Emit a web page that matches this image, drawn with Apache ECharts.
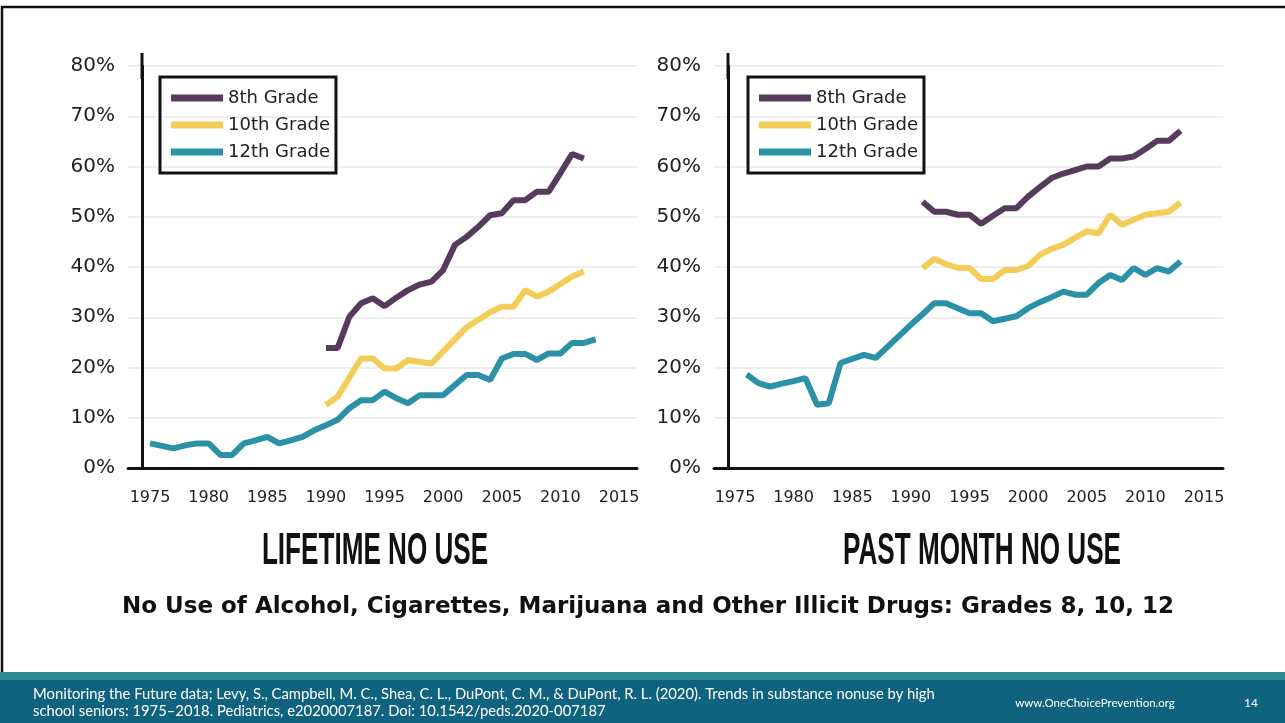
<!DOCTYPE html>
<html>
<head>
<meta charset="utf-8">
<title>No Use of Alcohol, Cigarettes, Marijuana and Other Illicit Drugs</title>
<script src="https://cdn.jsdelivr.net/npm/echarts@6/dist/echarts.min.js"></script>
<style>
  html, body { margin: 0; padding: 0; background: #fff; }
  #chart { width: 1285px; height: 723px; }
</style>
</head>
<body>
<div id="chart"></div>
<script>
  var grades = ['8th Grade', '10th Grade', '12th Grade'];
  var gradeColors = ['#573b5d', '#f4cd58', '#2b91a6'];
  var yearTicks = [1975, 1980, 1985, 1990, 1995, 2000, 2005, 2010, 2015];

  // lifetime no use
  var lifeYears12 = [1975, 1976, 1977, 1978, 1979, 1980, 1981, 1982, 1983, 1984, 1985, 1986, 1987,
    1988, 1989, 1990, 1991, 1992, 1993, 1994, 1995, 1996, 1997, 1998, 1999, 2000, 2001, 2002,
    2003, 2004, 2005, 2006, 2007, 2008, 2009, 2010, 2011, 2012, 2013];
  var lifeYears810 = [1990, 1991, 1992, 1993, 1994, 1995, 1996, 1997, 1998, 1999, 2000, 2001,
    2002, 2003, 2004, 2005, 2006, 2007, 2008, 2009, 2010, 2011, 2012];
  var life8 = [23.9, 23.9, 30.1, 32.8, 33.8, 32.2, 33.9, 35.4, 36.5, 37.1, 39.4, 44.4, 46.0,
    48.0, 50.3, 50.7, 53.3, 53.3, 55.0, 55.0, 58.7, 62.5, 61.6];
  var life10 = [12.5, 14.2, 18.0, 21.8, 21.8, 19.8, 19.8, 21.5, 21.1, 20.8, 23.2, 25.6, 28.0,
    29.5, 31.0, 32.1, 32.1, 35.4, 34.1, 35.1, 36.6, 38.1, 39.1];
  var life12 = [4.9, 4.4, 3.9, 4.5, 4.9, 4.9, 2.6, 2.6, 4.9, 5.5, 6.2, 4.9, 5.5, 6.2, 7.5, 8.5,
    9.6, 11.9, 13.5, 13.5, 15.2, 13.9, 12.9, 14.5, 14.5, 14.5, 16.5, 18.5, 18.5, 17.5, 21.8,
    22.7, 22.7, 21.5, 22.8, 22.8, 24.9, 24.9, 25.6];

  // past month no use
  var monthYears12 = [1976, 1977, 1978, 1979, 1980, 1981, 1982, 1983, 1984, 1985, 1986, 1987,
    1988, 1989, 1990, 1991, 1992, 1993, 1994, 1995, 1996, 1997, 1998, 1999, 2000, 2001, 2002,
    2003, 2004, 2005, 2006, 2007, 2008, 2009, 2010, 2011, 2012, 2013];
  var monthYears810 = [1991, 1992, 1993, 1994, 1995, 1996, 1997, 1998, 1999, 2000, 2001, 2002,
    2003, 2004, 2005, 2006, 2007, 2008, 2009, 2010, 2011, 2012, 2013];
  var month8 = [53.0, 51.0, 51.0, 50.4, 50.4, 48.6, 50.2, 51.7, 51.7, 54.0, 55.9, 57.7, 58.6,
    59.3, 60.0, 60.0, 61.6, 61.6, 62.0, 63.5, 65.1, 65.1, 67.1];
  var month10 = [39.8, 41.6, 40.6, 39.8, 39.8, 37.6, 37.6, 39.4, 39.4, 40.2, 42.4, 43.6, 44.4,
    45.8, 47.1, 46.7, 50.4, 48.4, 49.4, 50.4, 50.7, 51.0, 52.8];
  var month12 = [18.6, 16.9, 16.2, 16.8, 17.3, 17.9, 12.6, 12.9, 20.9, 21.7, 22.5, 21.9, 24.1,
    26.3, 28.5, 30.6, 32.8, 32.8, 31.8, 30.8, 30.8, 29.2, 29.7, 30.2, 31.8, 33.0, 34.0, 35.1,
    34.5, 34.5, 36.8, 38.4, 37.4, 39.8, 38.4, 39.8, 39.1, 41.1];

  var sansFont = '"DejaVu Sans", "Noto Sans", sans-serif';
  var inkColor = '#222';

  function pairs(years, vals) {
    return years.map(function (y, i) { return [y, vals[i]]; });
  }

  function makeXAxis(idx, min, max) {
    return {
      type: 'value', gridIndex: idx, min: min, max: max,
      axisLine: { show: true, onZero: false, lineStyle: { color: '#111', width: 3 } },
      axisTick: { show: false },
      splitLine: { show: false },
      axisLabel: {
        customValues: yearTicks, margin: 22,
        formatter: function (v) { return String(Math.round(v)); },
        fontSize: 16, color: inkColor, fontFamily: sansFont
      }
    };
  }

  function makeYAxis(idx) {
    return {
      type: 'value', gridIndex: idx, min: 0, max: 80, interval: 10,
      offset: -14,
      axisLine: {
        show: true, onZero: false,
        symbol: ['none', 'rect'], symbolSize: [3, 26],
        lineStyle: { color: '#111', width: 3 }
      },
      axisTick: { show: false },
      splitLine: { lineStyle: { color: '#eeeeee', width: 2 } },
      axisLabel: {
        formatter: '{value}%', margin: 27,
        fontSize: 20, color: inkColor, fontFamily: sansFont
      }
    };
  }

  function makeLegend(left) {
    return {
      orient: 'vertical', left: left, top: 77,
      padding: [12, 6, 12, 11],
      borderColor: '#111', borderWidth: 3,
      icon: 'rect', itemWidth: 52, itemHeight: 7,
      itemGap: 9, itemTextGap: 8,
      data: grades,
      textStyle: { fontSize: 18, color: inkColor, fontFamily: sansFont }
    };
  }

  function makeLine(name, color, idx, data) {
    return {
      name: name, type: 'line', xAxisIndex: idx, yAxisIndex: idx,
      data: data, symbol: 'none', silent: true,
      itemStyle: { color: color },
      lineStyle: { color: color, width: 6 }
    };
  }

  var chart = echarts.init(document.getElementById('chart'));

  var option = {
    backgroundColor: '#fff',
    animation: false,
    grid: [
      { left: 128, top: 66, width: 509, height: 402 },
      { left: 714, top: 66, width: 509, height: 402 }
    ],
    xAxis: [makeXAxis(0, 1973.12, 2016.53), makeXAxis(1, 1973.21, 2016.62)],
    yAxis: [makeYAxis(0), makeYAxis(1)],
    legend: [makeLegend(160), makeLegend(748)],
    series: [
      makeLine(grades[0], gradeColors[0], 0, pairs(lifeYears810, life8)),
      makeLine(grades[1], gradeColors[1], 0, pairs(lifeYears810, life10)),
      makeLine(grades[2], gradeColors[2], 0, pairs(lifeYears12, life12)),
      makeLine(grades[0], gradeColors[0], 1, pairs(monthYears810, month8)),
      makeLine(grades[1], gradeColors[1], 1, pairs(monthYears810, month10)),
      makeLine(grades[2], gradeColors[2], 1, pairs(monthYears12, month12))
    ],
    graphic: [
      // slide frame
      { type: 'rect', shape: { x: 2, y: 7, width: 1290, height: 730 },
        style: { fill: 'none', stroke: '#111', lineWidth: 2.5 }, silent: true },
      // footer band
      { type: 'rect', shape: { x: 0, y: 672, width: 1285, height: 9 },
        style: { fill: '#2f8a93' }, silent: true },
      { type: 'rect', shape: { x: 0, y: 680, width: 1285, height: 43 },
        style: { fill: '#0f637e' }, silent: true },
      { type: 'text', x: 375, y: 552, scaleX: 0.58,
        style: { text: 'LIFETIME NO USE', fill: '#111', textAlign: 'center', textVerticalAlign: 'middle',
          font: 'bold 45px "Liberation Sans", Arial, sans-serif' } },
      { type: 'text', x: 982, y: 552, scaleX: 0.58,
        style: { text: 'PAST MONTH NO USE', fill: '#111', textAlign: 'center', textVerticalAlign: 'middle',
          font: 'bold 45px "Liberation Sans", Arial, sans-serif' } },
      { type: 'text', x: 648, y: 607,
        style: { text: 'No Use of Alcohol, Cigarettes, Marijuana and Other Illicit Drugs: Grades 8, 10, 12',
          fill: '#111', textAlign: 'center', textVerticalAlign: 'middle',
          font: 'bold 23px "DejaVu Sans", sans-serif' } },
      { type: 'text', x: 33, y: 694,
        style: { text: 'Monitoring the Future data; Levy, S., Campbell, M. C., Shea, C. L., DuPont, C. M., & DuPont, R. L. (2020). Trends in substance nonuse by high',
          fill: '#fff', textVerticalAlign: 'middle', font: '14.8px Lato, sans-serif' } },
      { type: 'text', x: 33, y: 711,
        style: { text: 'school seniors: 1975\u20132018. Pediatrics, e2020007187. Doi: 10.1542/peds.2020-007187',
          fill: '#fff', textVerticalAlign: 'middle', font: '14.8px Lato, sans-serif' } },
      { type: 'text', x: 1095, y: 703,
        style: { text: 'www.OneChoicePrevention.org', fill: '#fff', textAlign: 'center',
          textVerticalAlign: 'middle', font: '11.5px Lato, sans-serif' } },
      { type: 'text', x: 1251, y: 703,
        style: { text: '14', fill: '#fff', textAlign: 'center',
          textVerticalAlign: 'middle', font: '12px Lato, sans-serif' } }
    ]
  };

  chart.setOption(option);
</script>
</body>
</html>
